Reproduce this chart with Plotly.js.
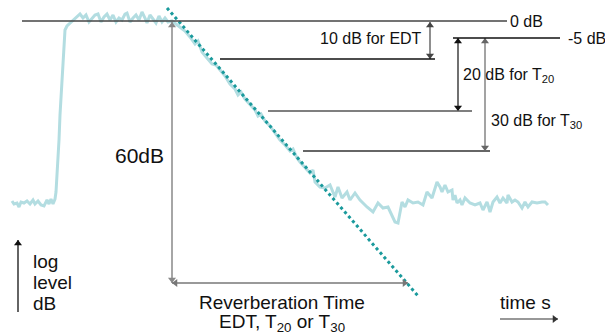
<!DOCTYPE html>
<html>
<head>
<meta charset="utf-8">
<script src="https://cdn.plot.ly/plotly-3.0.1.min.js"></script>
<style>html,body{margin:0;padding:0;background:#fff;}#chart{width:605px;height:336px;}</style>
</head>
<body>
<div id="chart"></div>
<script>
// Schematic coordinates: x = time (arbitrary units), y = level position (downwards)
const signalX = [12,14,17,19,21,24,27,30,33,35,38,41,44,47,49,51,53,55,56,57,58,59,60,61,62,63,64,65,67,69,71,
  74,77,80,83,86,89,92,95,98,101,104,107,110,113,116,119,122,125,127,130,133,136,139,142,145,147,150,153,156,159,162,165,168,
  172,176,180,185,190,195,198,202,207,212,216,220,225,230,235,238,241,245,250,255,258,261,265,270,275,280,285,290,293,297,300,305,310,313,315,320,325,330,335,338,342,347,350,355,360,367,373,378,383,388,395,398,402,405,408,413,418,423,427,432,437,440,442,445,448,452,453,455,457,460,462,465,470,475,480,483,487,488,490,493,497,500,503,507,508,512,515,518,522,525,528,532,537,542,545,548];
const signalY = [201,204,203,207,202,203,201,204,200,204,201,205,206,200,204,199,204,199,192,178,160,140,115,95,75,55,40,30,26,24,22,
  20,16,14,18,15,22,18,15,14,22,17,14,20,15,22,18,20,14,13,22,18,15,20,12,18,23,15,19,23,16,22,18,22,
  21,24,27,31,37,44,41,52,58,64,65,70,76,84,89,95,92,99,104,110,116,114,121,126,133,140,145,151,149,158,162,167,173,170,182,187,188,185,197,187,198,192,200,193,200,207,212,203,208,207,222,223,202,207,200,203,202,205,192,198,182,187,192,185,192,190,200,195,203,200,205,198,203,205,203,210,202,205,212,202,197,203,198,203,195,202,200,202,208,202,207,202,203,202,202,205];

// Linear-decay fit (dotted line)
const fitX = [167, 419];
const fitY = [8, 297];

// Reference level lines
const levelNames = ['0 dB', '-5 dB', 'EDT', 'T20', 'T30'];
const levelX0 = [22, 453, 220, 268, 303];
const levelX1 = [507, 560, 435, 472, 490];
const levelY  = [21, 38, 59, 111, 151];
const lineColors = ['#444444', '#111111', '#111111', '#555555', '#666666'];
const lineWidths = [1.5, 1.3, 1.5, 1.5, 2];

// Arrows: start -> end, both-headed or not
const arrowX0 = [430, 458, 485, 172, 172, 18, 500];
const arrowY0 = [59, 38, 38, 283, 283, 312, 319];
const arrowX1 = [430, 458, 485, 172, 408, 18, 558];
const arrowY1 = [22, 111, 151, 22, 283, 240, 319];
const arrowBoth = [true, true, true, true, true, false, false];
const arrowColors = ['#444', '#111', '#666', '#888', '#777', '#111', '#333'];
const arrowWidths = [1.2, 1.2, 1.2, 1.5, 1.5, 1.3, 1.2];

const shapes = levelNames.map((n, i) => ({
  type: 'line', xref: 'x', yref: 'y',
  x0: levelX0[i], x1: levelX1[i], y0: levelY[i], y1: levelY[i],
  line: {color: lineColors[i], width: lineWidths[i]}
}));

const font = {family: 'Liberation Sans, Arial, sans-serif', color: '#111'};
function label(text, x, y, size, xanchor) {
  return {text: text, x: x, y: y, xref: 'x', yref: 'y', showarrow: false,
    xanchor: xanchor || 'left', yanchor: 'middle',
    font: Object.assign({}, font, {size: size})};
}

const annotations = [
  label('0 dB', 508, 21, 16),
  label('-5 dB', 566, 38, 16),
  label('10 dB for EDT', 318, 38, 16),
  label('20 dB for T<sub>20</sub>', 461, 75, 16),
  label('30 dB for T<sub>30</sub>', 489, 121, 16),
  label('60dB', 166, 155, 21, 'right'),
  label('log', 31, 261, 19),
  label('level', 31, 282, 19),
  label('dB', 31, 303, 19),
  label('Reverberation Time', 282, 302, 19, 'center'),
  label('EDT, T<sub>20</sub> or T<sub>30</sub>', 282, 323, 19, 'center'),
  label('time s', 498, 302, 19)
];

const traces = [
  {x: signalX, y: signalY, type: 'scatter', mode: 'lines',
   line: {color: '#b3dde1', width: 3}, hoverinfo: 'skip'},
  {x: fitX, y: fitY, type: 'scatter', mode: 'lines',
   line: {color: '#1a9a9c', width: 3, dash: 'dot'}, hoverinfo: 'skip'}
];

// Arrow traces: shaft line + triangle heads whose tips sit on the ends
const HEAD = 7, R = HEAD / 2;
function headSymbol(dx, dy) {
  if (Math.abs(dx) > Math.abs(dy)) return dx > 0 ? 'triangle-right' : 'triangle-left';
  return dy > 0 ? 'triangle-down' : 'triangle-up'; // y axis reversed: +dy goes down
}
arrowX0.forEach((x0, i) => {
  const y0 = arrowY0[i], x1 = arrowX1[i], y1 = arrowY1[i];
  const len = Math.hypot(x1 - x0, y1 - y0), ux = (x1 - x0) / len, uy = (y1 - y0) / len;
  traces.push({x: [x0, x1], y: [y0, y1], type: 'scatter', mode: 'lines',
    line: {color: arrowColors[i], width: arrowWidths[i]}, hoverinfo: 'skip'});
  const hx = [x1 - ux * R], hy = [y1 - uy * R], hs = [headSymbol(ux, uy)];
  if (arrowBoth[i]) { hx.push(x0 + ux * R); hy.push(y0 + uy * R); hs.push(headSymbol(-ux, -uy)); }
  traces.push({x: hx, y: hy, type: 'scatter', mode: 'markers',
    marker: {symbol: hs, size: HEAD, color: arrowColors[i], line: {width: 0}}, hoverinfo: 'skip'});
});

const layout = {
  width: 605, height: 336,
  margin: {l: 0, r: 0, t: 0, b: 0},
  paper_bgcolor: '#ffffff', plot_bgcolor: '#ffffff',
  showlegend: false,
  xaxis: {range: [0, 605], visible: false, fixedrange: true},
  yaxis: {range: [336, 0], visible: false, fixedrange: true},
  shapes: shapes,
  annotations: annotations
};

Plotly.newPlot('chart', traces, layout, {staticPlot: true, displayModeBar: false});
</script>
</body>
</html>
